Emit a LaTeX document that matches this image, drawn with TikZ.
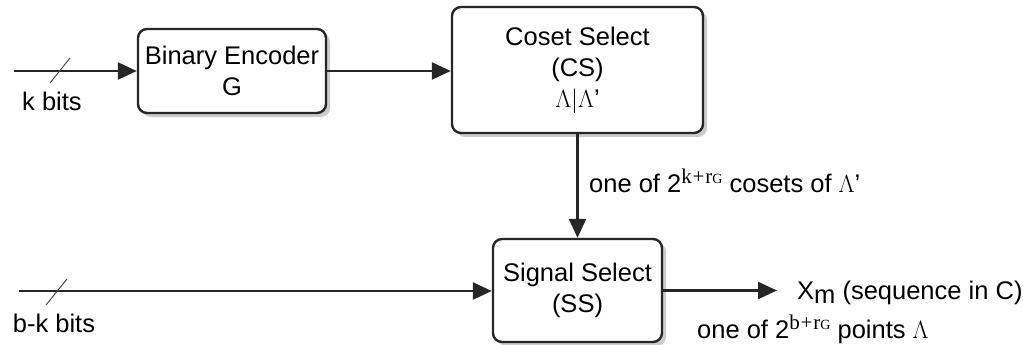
\documentclass[tikz,border=0pt]{standalone}
\usepackage[no-math]{fontspec}
\setmainfont{Liberation Sans}
\newfontfamily\serifx[LetterSpace=4]{Liberation Serif}
\usepackage{amsmath}
\usetikzlibrary{arrows.meta,shadows,calc}
\tikzset{
         blockbox/.style=
          {
           draw=black!85,
           line width=2.4pt,
           rounded corners=9pt,
           fill=white,
           align=center,
           inner sep=0pt,
           drop shadow={shadow xshift=4pt,shadow yshift=-4pt,fill=black!25,opacity=0.8}
          },
         wire/.style={line width=2.4pt,draw=black!85,-{Triangle[length=19pt,width=17pt]}},
         busmark/.style={line width=1pt,draw=black!70},
         lbl/.style={inner sep=0pt}
        }
\newcommand{\supexp}[1]{\raisebox{9pt}{\serifx\fontsize{21}{21}\selectfont #1+r\raisebox{-0.5pt}{\fontsize{14}{14}\selectfont G}}}

\begin{document}
\begin{tikzpicture}[x=1pt,y=-1pt,font=\fontsize{25.5}{31}\selectfont]
\useasboundingbox (0,0) rectangle (1023,345);
\node[blockbox,minimum width=188pt,minimum height=84pt] (enc) at (232,71) {Binary Encoder\\G}; % encoder
\node[blockbox,minimum width=251pt,minimum height=126pt] (cs) at (577.5,70) {Coset Select\\(CS)\\$\Lambda|\Lambda$'}; % coset select
\node[blockbox,minimum width=169pt,minimum height=103pt] (ss) at (577.5,290.5) {Signal Select\\(SS)}; % signal select
\coordinate (kin) at (14,71); % k bits in
\coordinate (bkin) at (19,291); % b-k bits in
\coordinate (xout) at (777,290.5); % output
\draw[wire] (kin) -- (enc.west); % Wiring
\draw[busmark] (50,83) -- (70,58); % bus slash
\node[lbl] (klbl) at (52,101) {k bits}; % k bits label
\draw[wire] (enc.east) -- (enc.east -| cs.west); % Wiring
\draw[wire] (cs.south) -- (ss.north); % Wiring
\node[lbl,anchor=base west] (cslbl) at (589,192) {one of 2\supexp{k} cosets of $\Lambda$'}; % cosets label
\draw[wire] (bkin) -- (bkin -| ss.west); % Wiring
\draw[busmark] (46,305) -- (67,279); % bus slash
\node[lbl] (bklbl) at (54,323) {b-k bits}; % b-k bits label
\draw[wire] (ss.east) -- (xout); % Wiring
\node[lbl,anchor=base west] (xlbl) at (797,299) {X\raisebox{-0.35ex}{m} (sequence in C)}; % output label
\node[lbl,anchor=base west] (ptlbl) at (697,338) {one of 2\supexp{b} points $\Lambda$}; % points label
\end{tikzpicture}
\end{document}
